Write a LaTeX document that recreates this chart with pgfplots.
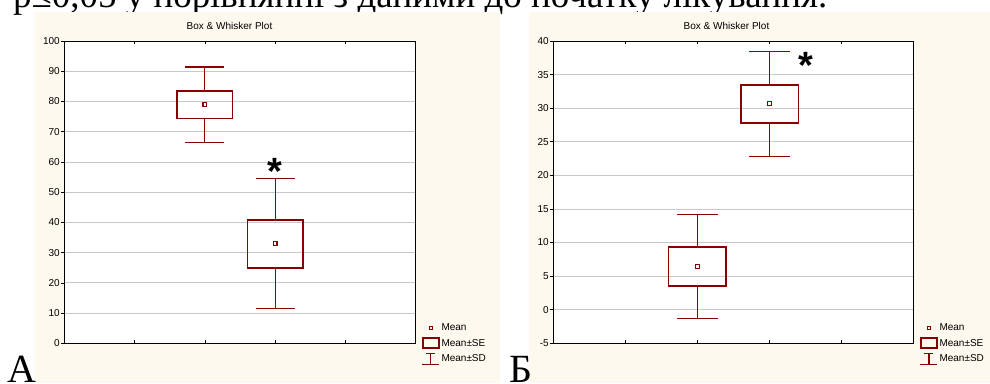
\documentclass[border=0pt]{standalone}
\usepackage{fontspec}
\setmainfont{Liberation Sans}
\newfontfamily\tnr{Liberation Serif}
\usepackage{pgfplots}
\pgfplotsset{compat=1.18}
\usepgfplotslibrary{statistics}
\definecolor{mred}{RGB}{136,0,0}
\definecolor{cream}{RGB}{253,249,238}
\definecolor{gridgray}{RGB}{200,200,200}
\pgfplotsset{
 swplot/.style={
  scale only axis, anchor=south west,
  xmin=0, xmax=5, xtick={1,2,3,4}, xticklabels={},
  tick align=inside, major tick length=3pt,
  xtick pos=both, ytick pos=left,
  y tick style={xshift=-3pt},
  tick style={black, line width=0.6pt},
  yticklabel style={xshift=-1pt},
  /pgf/number format/assume math mode=true,
  axis line style={black, line width=0.8pt},
  axis background/.style={fill=white},
  ymajorgrids, grid style={gridgray, line width=0.8pt},
  boxplot/draw direction=y,
  boxplot/draw/median/.code={},
  boxplot/every box/.style={line width=1.7pt},
  boxplot/every average/.style={/tikz/mark=square, /tikz/mark size=1.9pt, /tikz/line width=0.9pt},
  legend cell align=left,
  legend style={at={(1,0)}, anchor=west, xshift=6pt, yshift=0pt, draw=none, fill=none,
     row sep=2.5pt, inner sep=0pt, nodes={text height=8pt, text depth=2pt, inner sep=1.5pt}},
 },
 seimg/.style={legend image code/.code={\draw[mred, line width=1.7pt] (0pt,-5pt) rectangle (16pt,5pt);}},
 meanimg/.style={legend image code/.code={\draw[mred, line width=0.9pt] (6.2pt,-1.8pt) rectangle (9.8pt,1.8pt);}},
 sdimg/.style={legend image code/.code={\draw[mred, line width=1.1pt] (3.5pt,5.5pt) -- (12.5pt,5.5pt) (8pt,5.5pt) -- (8pt,-5.5pt) (-0.5pt,-5.5pt) -- (16.5pt,-5.5pt);}},
}
\begin{document}
\begin{tikzpicture}[x=1pt,y=1pt]
\useasboundingbox (0,0) rectangle (990,383);
\node[anchor=base west, inner sep=0pt] at (13,375) {\resizebox{814pt}{!}{\tnr p≤0,05 у порівнянні з даними до початку лікування.}};
\fill[cream] (35,0) rectangle (500,371.3);
\fill[cream] (529.3,0) rectangle (990,371.3);
\node[anchor=base west, inner sep=0pt, font=\tnr\fontsize{40}{40}\selectfont] at (7,1) {А};
\node[anchor=base west, inner sep=0pt, font=\tnr\fontsize{40}{40}\selectfont] at (509,1) {Б};
\node at (229.5,357) {Box \& Whisker Plot};
\node at (726.5,357) {Box \& Whisker Plot};

\begin{axis}[swplot, at={(64.3pt,39.7pt)}, width=351.4pt, height=302.3pt,
  ymin=0, ymax=100, ytick={0,10,...,100}]
\addplot[mred, line width=1.1pt, forget plot, boxplot prepared={draw position=2,
  lower whisker=66.3, lower quartile=74.4, median=79.0, upper quartile=83.5,
  upper whisker=91.4, average=79.0, box extend=0.79, whisker extend=0.555}] coordinates {};
\addplot[mred, line width=1.1pt, forget plot, boxplot prepared={draw position=3,
  lower whisker=11.6, lower quartile=24.9, median=33.1, upper quartile=40.9,
  upper whisker=54.6, average=33.1, box extend=0.79, whisker extend=0.555}] coordinates {};
\addlegendimage{meanimg}\addlegendentry{Mean}
\addlegendimage{seimg}\addlegendentry{Mean±SE}
\addlegendimage{sdimg}\addlegendentry{Mean±SD}
\node[anchor=base, yshift=-21.5pt, font=\bfseries\fontsize{38}{38}\selectfont] at (axis cs:3,59.7) {*};
\node[yshift=-13.4pt] at (axis cs:2,0) {MLHFQ\_start};
\node[yshift=-26.7pt] at (axis cs:3,0) {MLHFQ\_12m};
\end{axis}

\begin{axis}[swplot, at={(553.3pt,39.7pt)}, width=360.4pt, height=302.3pt,
  ymin=-5, ymax=40, ytick={-5,0,...,40}]
\addplot[mred, line width=1.1pt, forget plot, boxplot prepared={draw position=2,
  lower whisker=-1.34, lower quartile=3.53, median=6.45, upper quartile=9.33,
  upper whisker=14.2, average=6.45, box extend=0.8, whisker extend=0.565}] coordinates {};
\addplot[mred, line width=1.1pt, forget plot, boxplot prepared={draw position=3,
  lower whisker=22.8, lower quartile=27.8, median=30.65, upper quartile=33.5,
  upper whisker=38.4, average=30.65, box extend=0.8, whisker extend=0.565}] coordinates {};
\addlegendimage{meanimg}\addlegendentry{Mean}
\addlegendimage{seimg}\addlegendentry{Mean±SE}
\addlegendimage{sdimg}\addlegendentry{Mean±SD}
\node[anchor=base, yshift=-21.5pt, font=\bfseries\fontsize{38}{38}\selectfont] at (axis cs:3.5,37.65) {*};
\node[yshift=-13.4pt] at (axis cs:2,-5) {HeartQoL\_start};
\node[yshift=-26.7pt] at (axis cs:3,-5) {HeartQoL\_12m};
\end{axis}
\end{tikzpicture}
\end{document}
